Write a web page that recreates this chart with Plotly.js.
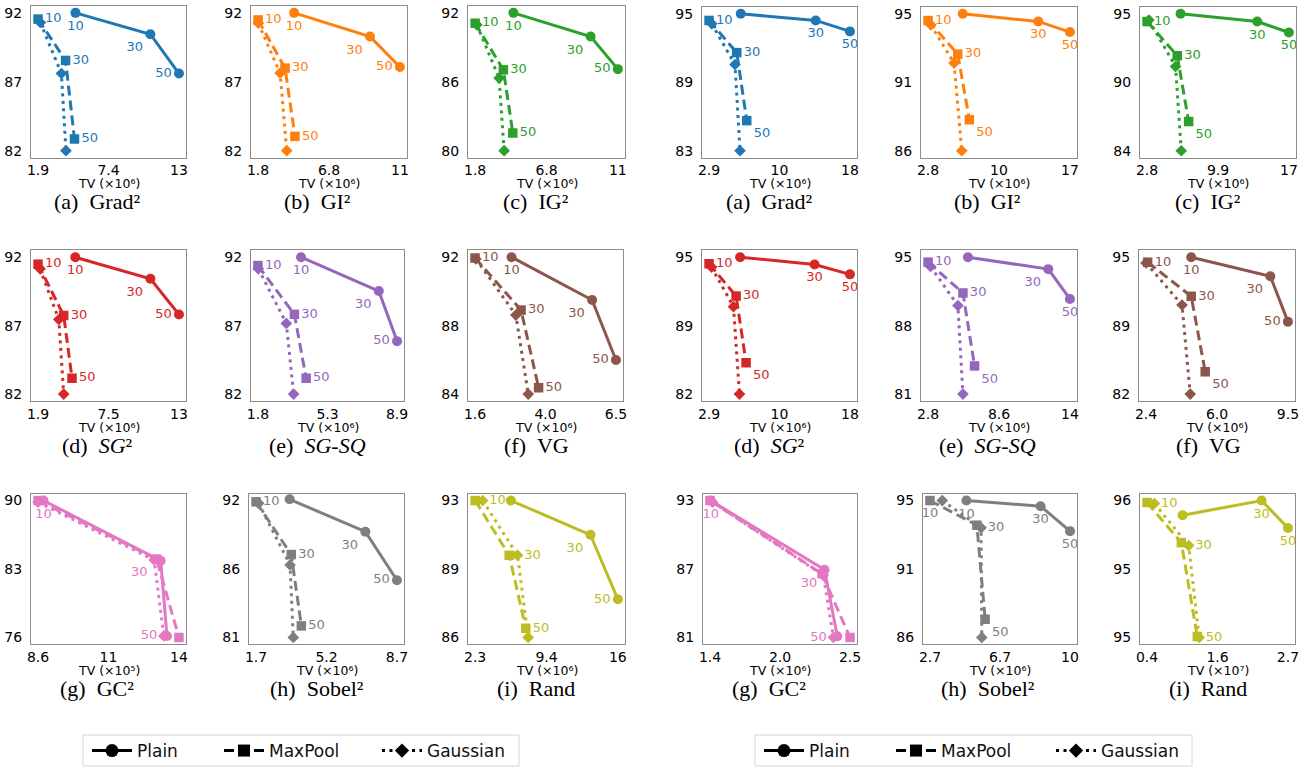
<!DOCTYPE html>
<html><head><meta charset="utf-8">
<script src="https://cdn.plot.ly/plotly-3.0.1.min.js"></script>
<style>html,body{margin:0;padding:0;background:#fff}#chart{width:1308px;height:769px}</style>
</head><body><div id="chart"></div>
<script>
// ---------------- DATA ----------------
const panelNames = ['Grad²','GI²','IG²','<i>SG</i>²','<i>SG</i>-<i>SQ</i>','VG','GC²','Sobel²','Rand'];
const panelLetters = ['a','b','c','d','e','f','g','h','i'];
const steps = ['10','30','50'];
const seriesNames = ['Plain','MaxPool','Gaussian'];
const colors = ['#1f77b4','#ff7f0e','#2ca02c','#d62728','#9467bd','#8c564b','#e377c2','#7f7f7f','#bcbd22'];
const expGlyph = {5:'⁵', 6:'⁶', 7:'⁷'};

// Left group: TV axis limits (tick ends), tick labels, accuracy limits, tick labels
const tvLimL  = [[1.9,13.0],[1.8,11.8],[1.8,11.8],[1.9,13.1],[1.8,8.9],[1.6,6.5],[8.6,14.0],[1.7,8.7],[2.3,16.5]];
const tvTickL = [['1.9','7.4','13'],['1.8','6.8','11'],['1.8','6.8','11'],['1.9','7.5','13'],['1.8','5.3','8.9'],['1.6','4.0','6.5'],['8.6','11','14'],['1.7','5.2','8.7'],['2.3','9.4','16']];
const tvExpL  = [6,6,6,6,6,6,5,6,6];
const accLimL  = [[82,92],[82,92],[80,92],[82,92],[82,92],[84,92],[76,90],[81,92],[86,93]];
const accTickL = [['82','87','92'],['82','87','92'],['80','86','92'],['82','87','92'],['82','87','92'],['84','88','92'],['76','83','90'],['81','86','92'],['86','89','93']];

const plainTvL  = [[4.85,10.75,13.0],[4.34,9.69,11.8],[4.48,9.89,11.8],[4.86,10.83,13.1],[4.0,7.97,8.9],[2.87,5.67,6.5],[8.81,13.3,13.54],[3.37,7.13,8.7],[5.86,13.77,16.5]];
const plainAccL = [[92.0,90.45,87.6],[92.0,90.28,88.07],[92.0,89.94,87.1],[92.0,90.42,87.81],[92.0,89.53,85.87],[92.0,89.5,85.99],[90.0,83.85,76.16],[92.1,89.5,85.6],[93.0,91.25,87.95]];
const maxTvL    = [[1.9,4.07,4.77],[1.8,3.7,4.4],[1.8,3.78,4.44],[1.9,3.94,4.6],[1.8,3.66,4.26],[1.6,3.2,3.81],[8.6,13.14,14.0],[1.7,3.45,3.95],[2.3,5.69,7.34]];
const maxAccL   = [[91.55,88.55,82.85],[91.49,87.99,83.04],[91.1,87.04,81.54],[91.49,87.74,83.16],[91.39,87.83,83.16],[91.95,88.91,84.37],[90.0,84.02,76.0],[91.9,87.66,81.93],[93.0,90.2,86.47]];
const gaussTvL  = [[2.08,3.74,4.1],[1.82,3.35,3.82],[1.92,3.48,3.83],[2.06,3.55,3.94],[1.82,3.25,3.62],[1.63,3.02,3.45],[8.6,13.05,13.42],[1.83,3.39,3.55],[3.05,6.52,7.57]];
const gaussAccL = [[91.3,87.6,82.0],[91.25,87.63,82.0],[90.96,86.32,80.0],[91.15,87.45,82.0],[91.15,87.16,82.0],[91.9,88.62,84.0],[89.83,83.92,76.16],[91.78,86.83,81.0],[93.0,90.2,86.0]];

// Right group
const tvLimR  = [[2.9,18.0],[2.8,17.2],[2.8,17.0],[2.9,18.0],[2.8,14.4],[2.4,9.5],[1.4,2.5],[2.7,10.7],[0.4,2.7]];
const tvTickR = [['2.9','10','18'],['2.8','10','17'],['2.8','9.9','17'],['2.9','10','18'],['2.8','8.6','14'],['2.4','6.0','9.5'],['1.4','2.0','2.5'],['2.7','6.7','10'],['0.4','1.6','2.7']];
const tvExpR  = [6,6,6,6,6,6,6,6,7];
const accLimR  = [[83,95],[86,95],[84,95],[82,95],[81,95],[82,95],[81,93],[86,95],[94.6,96.0]];
const accTickR = [['83','89','95'],['86','91','95'],['84','90','95'],['82','89','95'],['81','88','95'],['82','89','95'],['81','87','93'],['86','91','95'],['95','95','96']];

const plainTvR  = [[6.3,14.33,18.0],[6.32,13.99,17.2],[6.15,13.83,17.0],[6.23,14.21,18.0],[6.06,12.63,14.4],[4.66,8.62,9.5],[1.405,2.3,2.4],[4.78,9.02,10.7],[0.98,2.27,2.7]];
const plainAccR = [[95.0,94.42,93.46],[95.0,94.5,93.8],[95.0,94.38,93.5],[95.0,94.31,93.37],[95.0,93.78,90.73],[95.0,93.19,88.88],[93.0,86.94,81.1],[95.0,94.63,92.99],[95.85,96.0,95.72]];
const maxTvR    = [[2.9,5.87,6.94],[2.8,5.81,6.99],[2.8,5.82,6.96],[2.9,5.8,6.87],[2.8,5.65,6.6],[2.48,4.66,5.36],[1.4,2.28,2.5],[2.7,5.38,5.85],[0.4,0.96,1.22]];
const maxAccR   = [[94.42,91.6,85.64],[94.56,92.35,88.04],[94.38,91.63,86.35],[94.38,91.31,84.98],[94.49,91.34,83.88],[94.52,91.29,84.12],[93.0,86.59,81.0],[95.0,93.38,87.2],[95.98,95.57,94.61]];
const gaussTvR  = [[3.19,5.68,6.22],[3.07,5.44,6.22],[2.98,5.65,6.22],[3.16,5.52,6.16],[3.0,5.24,5.65],[2.4,4.2,4.61],[1.42,2.29,2.37],[3.4,5.62,5.66],[0.52,1.08,1.25]];
const gaussAccR = [[94.13,90.56,83.0],[94.28,91.76,86.0],[94.5,90.77,84.0],[94.06,90.3,82.0],[94.05,90.05,81.0],[94.46,90.46,82.0],[92.86,86.45,81.0],[95.0,93.21,86.0],[95.97,95.54,94.6]];

// ---------------- STYLE / LAYOUT CONFIG ----------------
const W = 1308, H = 769;
const BC='bottom center', BL='bottom left', ML='middle left', MR='middle right', BR='bottom right';
const N3=[null,null,null];
// label placement per panel: [plain, maxpool, gaussian]
const labelPosL = [
  [[BC,BL,ML],[MR,MR,MR],N3],[[BC,BL,ML],[MR,MR,MR],N3],[[BC,BL,ML],[MR,MR,MR],N3],
  [[BC,BL,ML],[MR,MR,MR],N3],[[BC,BL,ML],[MR,MR,MR],N3],[[BC,BL,ML],[MR,MR,MR],N3],
  [[BC,null,null],N3,[null,BL,ML]],[[null,BL,ML],[MR,MR,MR],N3],[[null,BL,ML],[null,null,MR],[MR,MR,null]]
];
const labelPosR = [
  [[null,BC,BC],[MR,MR,BR],N3],[[null,BC,BC],[MR,MR,BR],N3],[[null,BC,BC],[MR,MR,BR],N3],
  [[null,BC,BC],[MR,MR,BR],N3],[[null,BL,BC],[MR,MR,BR],N3],[[BC,BL,ML],[MR,MR,BR],N3],
  [[BC,BL,null],N3,[null,null,ML]],[[BC,BC,BC],[BC,null,BR],[null,MR,null]],[[null,BC,BC],N3,[MR,MR,MR]]
];
const boxL = [[31,186,6,158],[251,407,6,158],[468,625,6,158],[31,186,251,402],[251,404,251,402],[468,623,251,402],[31,186,495,646],[249,404,495,646],[468,625,495,646]];
const boxR = [[702,857,7,158],[921,1077,7,158],[1140,1296,7,158],[702,857,251,402],[921,1077,251,402],[1139,1295,251,402],[703,857,495,646],[923,1077,495,646],[1140,1295,495,646]];
const capXL = [97,317,536], capXR = [769,988,1208], capY = [202,447,690];

const dashes = ['solid','10px,5px','3px,4.5px'];
const symbols = ['circle','square','diamond'];
const msizes = [10,9.5,9];

const data = [];
const layout = {
  width: W, height: H,
  margin: {l:0, r:0, t:0, b:0, pad:0},
  paper_bgcolor: '#ffffff', plot_bgcolor: '#ffffff',
  font: {family: 'DejaVu Sans', color: '#000000'},
  showlegend: true,
  annotations: [], shapes: []
};

let n = 0;
function addGroup(g) {
  for (let p = 0; p < 9; p++) {
    n++;
    const xa = n === 1 ? 'xaxis' : 'xaxis' + n;
    const ya = n === 1 ? 'yaxis' : 'yaxis' + n;
    const xr = n === 1 ? 'x' : 'x' + n;
    const yr = n === 1 ? 'y' : 'y' + n;
    const [l, r, t, b] = g.box[p];
    const [x0, x1] = g.tvLim[p];
    const [y0, y1] = g.accLim[p];
    const dx = (x1 - x0) * 0.05, dy = (y1 - y0) * 0.05;
    const common = {showgrid:false, zeroline:false, showline:true, mirror:true, linecolor:'#8c8c8c', linewidth:1,
                    ticks:'', fixedrange:true, tickfont:{family:'DejaVu Sans', size:14, color:'#000'}};
    layout[xa] = Object.assign({}, common, {
      domain:[l / W, r / W], anchor: yr, range:[x0 - dx, x1 + dx],
      tickmode:'array', tickvals:[x0, (x0 + x1) / 2, x1], ticktext: g.tvTick[p],
      ticklabelstandoff: 0
    });
    layout[ya] = Object.assign({}, common, {
      domain:[1 - b / H, 1 - t / H], anchor: xr, range:[y0 - dy, y1 + dy],
      tickmode:'array', tickvals:[y0, (y0 + y1) / 2, y1], ticktext: g.accTick[p],
      ticklabelstandoff: 5
    });
    const color = colors[p];
    for (let s = 0; s < 3; s++) {
      const xs = g.tv[s][p], ys = g.acc[s][p];
      data.push({
        type:'scatter', mode:'lines+markers', xaxis: xr, yaxis: yr,
        x: xs, y: ys,
        name: seriesNames[s], showlegend:false, cliponaxis:false, hoverinfo:'skip',
        line:{color: color, width:3, dash: dashes[s]},
        marker:{symbol: symbols[s], size: msizes[s], color: color, line:{width:0}}
      });
      const pos = g.labels[p][s];
      const idx = [0, 1, 2].filter(i => pos[i]);
      if (idx.length) {
        data.push({
          type:'scatter', mode:'markers+text', xaxis: xr, yaxis: yr,
          x: idx.map(i => xs[i]), y: idx.map(i => ys[i]),
          text: idx.map(i => steps[i]), textposition: idx.map(i => pos[i]),
          showlegend:false, cliponaxis:false, hoverinfo:'skip',
          marker:{symbol: symbols[s], size: msizes[s], color:'rgba(0,0,0,0)', line:{width:0}},
          textfont:{family:'DejaVu Sans', size:13, color: color}
        });
      }
    }
    // axis title (x) and sub-caption
    layout.annotations.push({
      xref:'paper', yref:'paper', x: (l + r) / 2 / W, y: 1 - (b + 26.4) / H,
      xanchor:'center', yanchor:'middle', showarrow:false, borderpad:0,
      text: 'TV (×10' + expGlyph[g.tvExp[p]] + ')',
      font:{family:'DejaVu Sans', size:12.5, color:'#000'}
    });
    const row = Math.floor(p / 3), col = p % 3;
    layout.annotations.push({
      xref:'paper', yref:'paper', x: g.capX[col] / W, y: 1 - capY[row] / H,
      xanchor:'center', yanchor:'middle', showarrow:false, borderpad:0,
      text: '(' + panelLetters[p] + ')\u00a0\u00a0' + panelNames[p],
      font:{family:'Liberation Serif', size:22, color:'#000'}
    });
  }
}

addGroup({box: boxL, tvLim: tvLimL, tvTick: tvTickL, tvExp: tvExpL, accLim: accLimL, accTick: accTickL,
  tv:[plainTvL, maxTvL, gaussTvL], acc:[plainAccL, maxAccL, gaussAccL], labels: labelPosL, capX: capXL});
addGroup({box: boxR, tvLim: tvLimR, tvTick: tvTickR, tvExp: tvExpR, accLim: accLimR, accTick: accTickR,
  tv:[plainTvR, maxTvR, gaussTvR], acc:[plainAccR, maxAccR, gaussAccR], labels: labelPosR, capX: capXR});

// Legends: one per entry, so spacing matches; frames as shapes
const legendSym = [[88,220,378],[760,892,1052]];
const legendBox = [[83,519],[755,1192]];
const legendSizes = [13,12,11];
let li = 0;
for (let gi = 0; gi < 2; gi++) {
  for (let s = 0; s < 3; s++) {
    li++;
    const key = li === 1 ? 'legend' : 'legend' + li;
    layout[key] = {orientation:'h', x: (legendSym[gi][s] - 1) / W, xanchor:'left', y: 1 - 753 / H, yanchor:'middle',
      bgcolor:'rgba(0,0,0,0)', borderwidth:0, font:{family:'DejaVu Sans', size:17, color:'#111'}, itemwidth:40};
    data.push({type:'scatter', mode:'lines+markers', x:[null], y:[null], xaxis:'x', yaxis:'y',
      name: seriesNames[s], legend: key, showlegend:true, hoverinfo:'skip',
      line:{color:'#000', width:3, dash: dashes[s]},
      marker:{symbol: symbols[s], size: legendSizes[s], color:'#000'}});
  }
  layout.shapes.push({type:'rect', xref:'paper', yref:'paper',
    x0: legendBox[gi][0] / W, x1: legendBox[gi][1] / W, y0: 1 - 768 / H, y1: 1 - 737 / H,
    line:{color:'#d6d6d6', width:1}, fillcolor:'rgba(255,255,255,0.8)', layer:'below'});
}

Plotly.newPlot('chart', data, layout, {displayModeBar:false, staticPlot:true});
</script>
</body></html>
